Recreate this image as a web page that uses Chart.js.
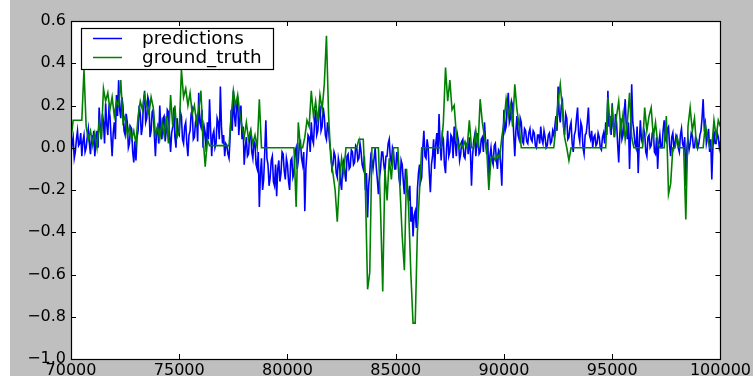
<!DOCTYPE html>
<html>
<head>
<meta charset="utf-8">
<script src="https://cdn.jsdelivr.net/npm/chart.js@4.4.0/dist/chart.umd.min.js"></script>
<style>
  html, body { margin: 0; padding: 0; background: #ffffff; }
  canvas { display: block; }
</style>
</head>
<body>
<canvas id="chart" width="753" height="380"></canvas>
<script>
// both series start at 70000; predictions every 50, ground truth every 100
const xStart = 70000;
const predStep = 50;
const truthStep = 100;

const xTicks = [70000, 75000, 80000, 85000, 90000, 95000, 100000];
const yTicks = [-1.0, -0.8, -0.6, -0.4, -0.2, 0.0, 0.2, 0.4, 0.6];

const predictions = [
  -0.03, 0.02, 0.05, -0.05, -0.02, 0.04, 0.08, 0.01, 0.02, 0.07, -0.04, 0.03, 0.06, -0.02, 0.00, 0.05, 0.09, 0.02, -0.03, 0.06,
  0.02, 0.08, -0.04, 0.03, 0.08, 0.00, 0.19, 0.10, 0.04, 0.16, 0.12, 0.02, 0.21, 0.11, 0.06, 0.18, 0.15, 0.05, -0.04, 0.07,
  0.12, 0.04, 0.25, 0.15, 0.32, 0.18, 0.14, 0.24, 0.20, 0.08, 0.06, 0.16, 0.12, 0.00, 0.02, 0.10, 0.09, -0.02, -0.07, 0.03,
  -0.06, 0.05, 0.08, 0.20, 0.16, 0.06, 0.10, 0.22, 0.27, 0.12, 0.14, 0.24, 0.22, 0.05, 0.08, 0.17, 0.18, 0.06, -0.04, 0.08,
  0.10, 0.02, 0.20, 0.09, 0.04, 0.14, 0.15, 0.03, 0.08, 0.18, 0.17, 0.06, -0.02, 0.07, 0.10, 0.19, 0.05, 0.00, 0.14, 0.07,
  0.06, 0.17, 0.15, 0.04, 0.02, 0.10, 0.12, 0.02, -0.04, 0.06, 0.08, 0.16, 0.18, 0.04, 0.05, 0.12, 0.14, 0.03, 0.26, 0.12,
  0.10, 0.18, 0.00, 0.10, 0.07, -0.02, 0.12, 0.04, 0.23, 0.08, -0.04, 0.06, 0.08, 0.00, 0.02, 0.14, 0.12, 0.04, 0.29, 0.10,
  0.02, 0.06, -0.04, 0.02, 0.01, -0.03, -0.05, 0.05, 0.18, 0.08, 0.27, 0.15, 0.10, 0.20, 0.22, 0.06, 0.14, 0.20, 0.04, 0.10,
  -0.08, 0.00, 0.05, -0.04, -0.03, 0.06, 0.08, -0.02, -0.05, 0.03, 0.02, -0.08, -0.10, -0.02, -0.28, -0.12, -0.05, -0.20, -0.15, -0.02,
  0.13, -0.05, -0.08, -0.18, -0.14, -0.06, -0.04, -0.16, -0.18, -0.08, -0.23, -0.10, -0.06, -0.16, -0.12, -0.02, -0.03, -0.11, -0.15, -0.05,
  -0.08, -0.16, -0.20, -0.06, -0.05, -0.14, -0.12, -0.02, 0.00, -0.10, -0.06, 0.02, 0.03, -0.05, -0.08, -0.02, -0.30, -0.10, -0.02, 0.06,
  0.05, -0.02, 0.12, 0.04, 0.02, 0.12, 0.18, 0.06, 0.08, 0.16, 0.20, 0.08, 0.10, 0.19, 0.15, 0.06, 0.04, 0.12, 0.08, 0.02,
  -0.02, -0.10, -0.08, -0.02, -0.04, -0.12, -0.14, -0.05, -0.08, -0.16, -0.20, -0.08, -0.06, -0.12, -0.16, -0.04, -0.03, -0.10, -0.09, -0.01,
  -0.02, -0.08, -0.07, 0.01, 0.00, -0.06, -0.05, 0.02, -0.02, -0.08, -0.10, -0.04, -0.20, -0.12, -0.33, -0.18, -0.12, -0.04, -0.06, -0.10,
  -0.05, 0.00, -0.09, -0.15, -0.22, -0.14, -0.10, -0.02, -0.02, -0.08, -0.12, -0.04, -0.04, 0.02, 0.04, -0.05, -0.07, 0.00, -0.02, -0.10,
  -0.10, -0.02, -0.06, -0.14, -0.18, -0.06, -0.08, -0.16, -0.22, -0.10, -0.14, -0.20, -0.25, -0.18, -0.35, -0.28, -0.42, -0.32, -0.30, -0.38,
  -0.20, -0.12, -0.08, -0.16, -0.14, 0.00, 0.08, -0.04, -0.05, 0.04, 0.00, -0.12, -0.21, -0.08, -0.04, 0.04, -0.10, 0.02, 0.07, -0.03,
  0.16, 0.02, -0.06, 0.06, 0.04, -0.08, -0.12, 0.00, 0.08, -0.04, -0.02, 0.06, 0.05, -0.05, 0.10, 0.02, -0.04, 0.06, 0.03, -0.06,
  -0.03, 0.03, 0.04, -0.04, -0.05, 0.02, 0.02, -0.03, 0.05, -0.02, -0.18, -0.04, 0.03, 0.06, -0.04, 0.02, 0.07, -0.03, -0.02, 0.04,
  0.05, -0.02, 0.12, 0.03, -0.03, 0.04, -0.16, -0.04, 0.00, -0.06, -0.08, 0.01, 0.02, -0.06, -0.10, -0.01, -0.02, -0.08, -0.18, 0.02,
  0.18, 0.08, 0.10, 0.20, 0.26, 0.12, 0.14, 0.22, 0.20, 0.06, -0.04, 0.08, 0.15, 0.06, 0.04, 0.14, 0.12, 0.03, 0.02, 0.09,
  0.08, 0.03, 0.02, 0.07, 0.09, 0.04, 0.03, 0.08, 0.07, 0.01, 0.00, 0.06, 0.06, 0.02, 0.10, 0.04, 0.02, 0.08, 0.05, 0.00,
  0.01, 0.06, 0.07, 0.02, 0.03, 0.08, 0.06, 0.10, 0.15, 0.08, 0.29, 0.16, 0.12, 0.20, 0.22, 0.10, 0.06, 0.16, 0.14, 0.04,
  0.05, 0.10, 0.12, 0.02, -0.02, 0.06, 0.08, 0.14, 0.19, 0.06, 0.03, 0.12, 0.10, 0.00, -0.03, 0.06, 0.07, 0.12, 0.19, 0.06,
  0.04, 0.08, 0.00, 0.05, 0.06, 0.01, 0.02, 0.07, 0.05, 0.00, -0.01, 0.05, 0.07, 0.02, 0.12, 0.06, 0.27, 0.10, 0.15, 0.06,
  0.21, 0.10, 0.05, 0.16, 0.12, 0.02, -0.07, 0.06, 0.14, 0.04, 0.06, 0.16, 0.23, 0.10, 0.04, 0.12, -0.10, 0.08, 0.30, 0.12,
  0.08, 0.02, 0.00, 0.10, -0.12, 0.02, 0.13, 0.04, 0.02, 0.09, 0.07, -0.02, -0.04, 0.05, 0.06, 0.00, 0.01, 0.07, 0.08, -0.02,
  -0.03, 0.05, -0.10, 0.02, 0.06, 0.00, 0.00, 0.08, 0.13, 0.04, 0.03, 0.09, 0.10, 0.01, -0.04, 0.05, 0.07, 0.00, 0.02, 0.06,
  0.05, 0.00, -0.02, 0.06, 0.09, 0.02, 0.00, 0.05, -0.18, 0.00, 0.04, -0.01, 0.02, 0.07, 0.06, 0.00, 0.00, 0.05, 0.04, 0.00,
  0.02, 0.06, 0.08, 0.14, 0.23, 0.10, 0.12, 0.02, 0.05, 0.09, -0.02, 0.04, -0.15, 0.00, 0.08, 0.02, 0.02, 0.07, 0.05, 0.00,
  0.03
];

const groundTruth = [
  0.04, 0.13, 0.13, 0.13, 0.13, 0.13, 0.37, 0.10, 0.04, 0.08,
  0.02, 0.07, 0.00, 0.12, 0.04, 0.28, 0.22, 0.26, 0.18, 0.24,
  0.15, 0.22, 0.20, 0.32, 0.12, 0.15, 0.06, 0.10, 0.04, 0.08,
  0.02, 0.15, 0.22, 0.18, 0.25, 0.20, 0.16, 0.24, 0.19, 0.06,
  0.10, 0.04, 0.12, 0.06, 0.15, 0.02, 0.25, 0.10, 0.20, 0.05,
  0.08, 0.37, 0.24, 0.28, 0.20, 0.26, 0.16, 0.20, 0.12, 0.18,
  0.27, 0.05, -0.09, 0.04, 0.01, 0.01, 0.01, 0.01, 0.01, 0.01,
  0.01, 0.01, 0.01, 0.01, 0.15, 0.27, 0.20, 0.25, 0.16, 0.10,
  0.05, 0.12, 0.04, 0.08, 0.02, 0.06, 0.00, 0.23, 0.00, 0.00,
  0.00, 0.00, 0.00, 0.00, 0.00, 0.00, 0.00, 0.00, 0.00, 0.00,
  0.00, 0.00, 0.00, 0.00, -0.28, 0.12, 0.00, 0.00, 0.05, 0.13,
  0.10, 0.27, 0.15, 0.22, 0.12, 0.25, 0.18, 0.30, 0.53, 0.15,
  -0.05, -0.12, -0.20, -0.35, -0.15, -0.05, -0.12, 0.00, 0.00, 0.00,
  0.00, 0.00, 0.00, 0.04, 0.04, 0.04, -0.20, -0.67, -0.59, 0.00,
  0.00, 0.00, 0.00, -0.30, -0.68, -0.10, -0.25, -0.05, -0.15, 0.00,
  0.00, 0.00, -0.20, -0.42, -0.58, -0.10, -0.30, -0.60, -0.83, -0.83,
  -0.40, -0.20, 0.00, 0.00, 0.00, 0.00, 0.00, 0.00, 0.00, 0.00,
  0.00, 0.00, 0.12, 0.38, 0.22, 0.32, 0.18, 0.20, 0.06, 0.00,
  0.02, 0.00, 0.03, 0.00, 0.13, 0.00, 0.00, 0.08, 0.00, 0.23,
  0.12, 0.05, 0.00, -0.20, -0.05, -0.04, -0.06, -0.03, -0.05, 0.05,
  0.12, 0.23, 0.15, 0.20, 0.10, 0.30, 0.18, 0.10, 0.00, 0.00,
  0.00, 0.00, 0.00, 0.00, 0.00, 0.00, 0.00, 0.00, 0.00, 0.00,
  0.00, 0.00, 0.00, 0.00, 0.10, 0.22, 0.30, 0.18, 0.05, 0.00,
  -0.06, 0.00, 0.00, 0.00, 0.00, 0.00, 0.00, 0.00, 0.00, 0.00,
  0.00, 0.00, 0.00, 0.00, 0.00, 0.00, 0.00, 0.00, 0.24, 0.10,
  0.18, 0.05, 0.15, 0.22, 0.08, 0.16, 0.04, 0.12, 0.26, 0.05,
  0.00, 0.00, 0.00, 0.00, 0.00, 0.19, 0.08, 0.15, 0.19, 0.05,
  0.12, 0.02, 0.00, 0.00, 0.00, 0.15, -0.22, -0.17, 0.00, 0.00,
  0.05, 0.00, 0.00, 0.00, -0.34, 0.10, 0.19, 0.08, 0.14, 0.00,
  0.00, 0.00, 0.00, 0.11, 0.05, 0.00, 0.00, 0.13, 0.05, 0.13,
  0.10
];

const seriesNames = ['predictions', 'ground_truth'];
const seriesColors = ['#0000ff', '#008000'];

function toPoints(values, step) {
  return values.map((v, i) => ({ x: xStart + i * step, y: v }));
}

function fmtY(v) {
  const r = Math.round(v * 10) / 10;
  return (r < 0 ? '\u2212' : '') + Math.abs(r).toFixed(1);
}

// grey figure, white axes, frame with inward ticks, boxed legend (matplotlib classic look)
const figurePlugin = {
  id: 'figurePlugin',
  beforeDraw(chart) {
    const ctx = chart.ctx;
    const a = chart.chartArea;
    ctx.save();
    ctx.fillStyle = '#ffffff';
    ctx.fillRect(0, 0, chart.width, chart.height);
    ctx.fillStyle = '#bfbfbf';
    ctx.fillRect(10, 0, chart.width - 10, 376);
    ctx.fillStyle = '#ffffff';
    ctx.fillRect(a.left, a.top, a.right - a.left, a.bottom - a.top);
    ctx.restore();
  },
  afterDraw(chart) {
    const ctx = chart.ctx;
    const a = chart.chartArea;
    const xs = chart.scales.x;
    const ys = chart.scales.y;
    ctx.save();
    ctx.strokeStyle = '#000000';
    ctx.lineWidth = 1;
    ctx.beginPath();
    xTicks.forEach(t => {
      const px = Math.round(xs.getPixelForValue(t)) + 0.5;
      ctx.moveTo(px, a.bottom);
      ctx.lineTo(px, a.bottom - 5);
      ctx.moveTo(px, a.top);
      ctx.lineTo(px, a.top + 5);
    });
    yTicks.forEach(t => {
      const py = Math.round(ys.getPixelForValue(t)) + 0.5;
      ctx.moveTo(a.left, py);
      ctx.lineTo(a.left + 5, py);
      ctx.moveTo(a.right, py);
      ctx.lineTo(a.right - 5, py);
    });
    ctx.stroke();
    ctx.lineWidth = 1.2;
    ctx.strokeRect(Math.round(a.left) + 0.5, Math.round(a.top) + 0.5,
      Math.round(a.right - a.left), Math.round(a.bottom - a.top));

    // legend
    const lx = 81, ly = 28, lw = 192, lh = 41;
    ctx.fillStyle = '#ffffff';
    ctx.fillRect(lx, ly, lw, lh);
    ctx.lineWidth = 1.2;
    ctx.strokeRect(lx + 0.5, ly + 0.5, lw, lh);
    ctx.font = '18.4px "DejaVu Sans"';
    ctx.textBaseline = 'middle';
    ctx.textAlign = 'left';
    const rows = [38, 57];
    seriesNames.forEach((name, i) => {
      ctx.strokeStyle = seriesColors[i];
      ctx.lineWidth = 1.5;
      ctx.beginPath();
      ctx.moveTo(93, rows[i] + 0.5);
      ctx.lineTo(122, rows[i] + 0.5);
      ctx.stroke();
      ctx.fillStyle = '#000000';
      ctx.fillText(name, 142, rows[i] + 1);
    });
    ctx.restore();
  }
};

new Chart(document.getElementById('chart'), {
  type: 'line',
  data: {
    datasets: [
      {
        label: seriesNames[0],
        data: toPoints(predictions, predStep),
        borderColor: seriesColors[0],
        borderWidth: 1.6,
        pointRadius: 0,
        tension: 0,
        order: 1
      },
      {
        label: seriesNames[1],
        data: toPoints(groundTruth, truthStep),
        borderColor: seriesColors[1],
        borderWidth: 1.6,
        pointRadius: 0,
        tension: 0,
        order: 0
      }
    ]
  },
  options: {
    responsive: false,
    animation: false,
    devicePixelRatio: 1,
    layout: { padding: { left: 10, right: 32, top: 21, bottom: 0 } },
    plugins: {
      legend: { display: false },
      tooltip: { enabled: false }
    },
    scales: {
      x: {
        type: 'linear',
        min: 70000,
        max: 100000,
        afterFit: s => { s.height = 21; },
        afterBuildTicks: s => { s.ticks = xTicks.map(v => ({ value: v })); },
        grid: { display: false, drawTicks: false },
        border: { display: false },
        ticks: {
          padding: 2,
          maxRotation: 0,
          autoSkip: false,
          color: '#000000',
          font: { family: 'DejaVu Sans', size: 16 },
          callback: v => String(v)
        }
      },
      y: {
        type: 'linear',
        min: -1.0,
        max: 0.6,
        afterFit: s => { s.width = 61; },
        afterBuildTicks: s => { s.ticks = yTicks.map(v => ({ value: v })); },
        grid: { display: false, drawTicks: false },
        border: { display: false },
        ticks: {
          padding: 5,
          autoSkip: false,
          color: '#000000',
          font: { family: 'DejaVu Sans', size: 16 },
          callback: v => fmtY(v)
        }
      }
    }
  },
  plugins: [figurePlugin]
});
</script>
</body>
</html>
